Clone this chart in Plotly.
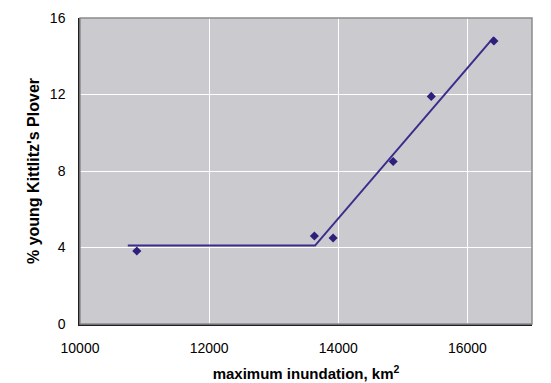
import plotly.graph_objects as go

inundation = [10880, 13630, 13920, 14850, 15440, 16410]
pct_young = [3.82, 4.6, 4.5, 8.5, 11.9, 14.8]

fit_x = [10740, 13640, 16410]
fit_y = [4.1, 4.1, 15.0]

x_ticks = [10000, 12000, 14000, 16000]
y_ticks = [0, 4, 8, 12, 16]

fig = go.Figure()
fig.add_trace(go.Scatter(x=fit_x, y=fit_y, mode="lines",
                         line=dict(color="#3a2d8c", width=2), hoverinfo="skip"))
fig.add_trace(go.Scatter(x=inundation, y=pct_young, mode="markers",
                         marker=dict(symbol="diamond", size=7, color="#2e1f7a")))

# page body has an 8px margin, so the figure is shrunk by 8px and margins offset
fig.update_layout(
    width=543, height=375,
    margin=dict(l=72, r=19, t=10, b=59, autoexpand=False),
    paper_bgcolor="white", plot_bgcolor="#cacacf",
    showlegend=False,
    font=dict(family="Liberation Sans, Arial, sans-serif", size=14, color="black"),
    shapes=[dict(type="rect", xref="paper", yref="paper", x0=0, y0=0, x1=1, y1=1,
                 line=dict(color="#8c8c8c", width=1.5), layer="above")],
)
fig.update_xaxes(range=[10000, 17000], tickvals=x_ticks, ticktext=[str(v) for v in x_ticks],
                 showgrid=True, gridcolor="white", gridwidth=1, zeroline=False,
                 showline=True, linecolor="#202020", linewidth=1.5, ticks="",
                 ticklabelstandoff=10, automargin=False,
                 title=dict(text="<b>maximum inundation, km<sup>2</sup></b>", standoff=14,
                            font=dict(size=15)))
fig.update_yaxes(range=[0, 16], tickvals=y_ticks,
                 showgrid=True, gridcolor="white", gridwidth=1, zeroline=False,
                 showline=True, linecolor="#202020", linewidth=1.5, ticks="",
                 ticklabelstandoff=10, automargin=False,
                 title=dict(text="<b>% young Kittlitz's Plover</b>", standoff=6,
                            font=dict(size=16)))

fig.write_html("out.html")
